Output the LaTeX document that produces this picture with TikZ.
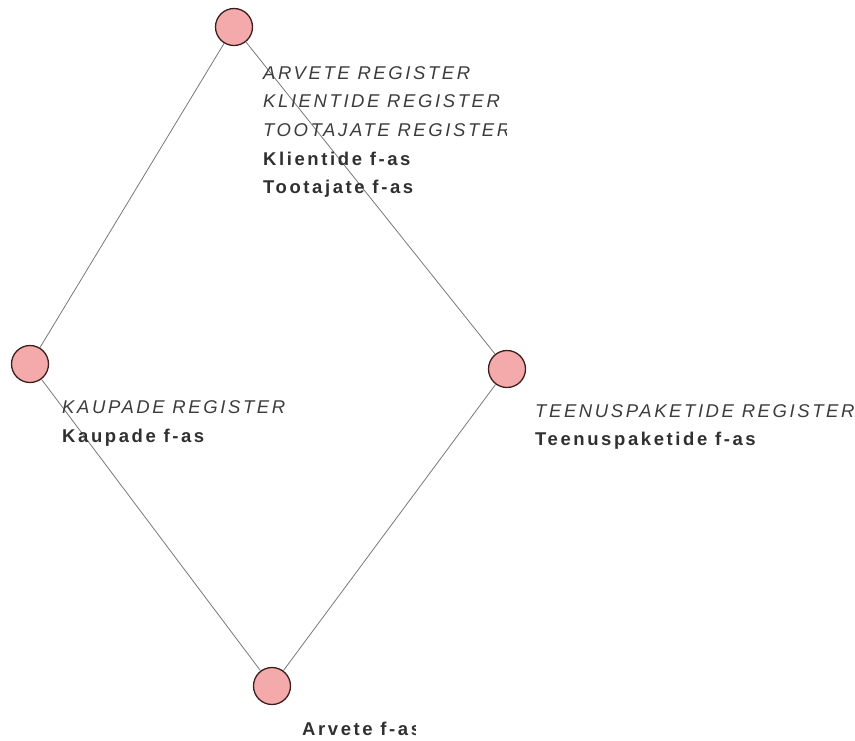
\documentclass[tikz,border=0pt]{standalone}
\usepackage{fontspec}
\setmainfont{Liberation Sans}
\newfontfamily\lblfont{Liberation Sans}[LetterSpace=14]
\definecolor{nodepink}{RGB}{244,170,170}
\definecolor{nodeedge}{RGB}{60,30,30}
\definecolor{edgegray}{RGB}{120,120,120}
\definecolor{txtgray}{RGB}{60,60,60}

\begin{document}
\begin{tikzpicture}[x=1pt,y=1pt]
\tikzstyle{every node}+=[inner sep=0pt]
\tikzstyle{vertex}=[circle, draw=nodeedge, line width=1.3pt, fill=nodepink, minimum width=37pt, minimum height=36pt]
\tikzstyle{reg}=[anchor=base west, text=txtgray, font=\lblfont\fontsize{18.5}{22}\selectfont\itshape]
\tikzstyle{fas}=[anchor=base west, text=txtgray!80!black, font=\lblfont\fontsize{18.5}{22}\selectfont\bfseries]
\useasboundingbox (0,0) rectangle (855,-740);
\node[vertex] (top) at (234,-27) {};
\node[vertex] (left) at (30,-364) {};
\node[vertex] (right) at (507,-369) {};
\node[vertex] (bottom) at (272,-686) {};
\draw [edgegray, line width=0.8pt] (top) -- (left);
\draw [edgegray, line width=0.8pt] (top) -- (right);
\draw [edgegray, line width=0.8pt] (left) -- (bottom);
\draw [edgegray, line width=0.8pt] (right) -- (bottom);
\node[reg] (arvreg) at (263,-79) {ARVETE REGISTER};
\node[reg] (klireg) at (263,-107) {KLIENTIDE REGISTER};
\begin{scope}
\clip (255,-110) rectangle (506,-145);
\node[reg] (tooreg) at (263,-136) {TOOTAJATE REGISTER};
\end{scope}
\node[fas] (klifas) at (263,-165) {Klientide f-as};
\node[fas] (toofas) at (263,-193) {Tootajate f-as};
\node[reg] (kaureg) at (62,-413) {KAUPADE REGISTER};
\node[fas] (kaufas) at (62,-442) {Kaupade f-as};
\node[reg] (teereg) at (535,-417) {TEENUSPAKETIDE REGISTER};
\node[fas] (teefas) at (535,-445) {Teenuspaketide f-as};
\begin{scope}
\clip (295,-715) rectangle (415,-740);
\node[fas] (arvfas) at (302,-735) {Arvete f-as};
\end{scope}
\end{tikzpicture}
\end{document}
